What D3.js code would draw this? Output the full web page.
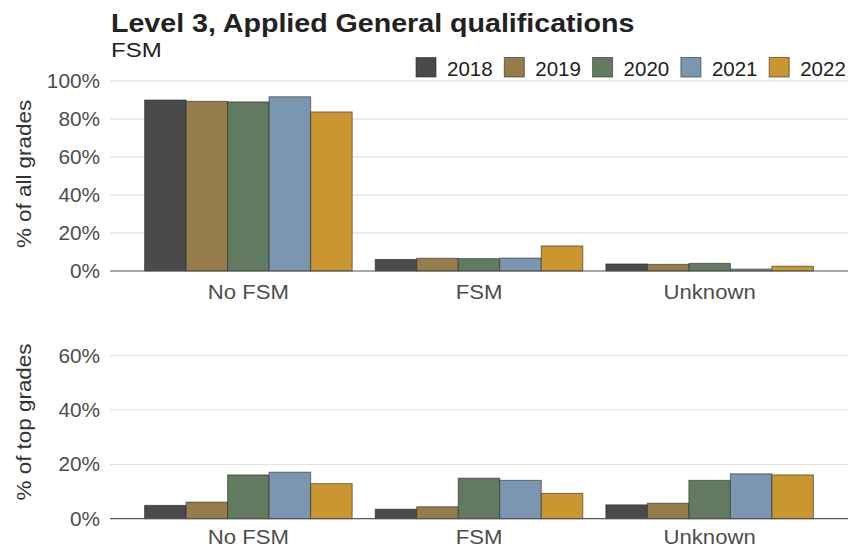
<!DOCTYPE html>
<html>
<head>
<meta charset="utf-8">
<script src="https://cdn.jsdelivr.net/npm/d3@7"></script>
<style>
  body { margin: 0; background: #fff; }
  svg { display: block; font-family: "Liberation Sans", Arial, sans-serif; }
</style>
</head>
<body>
<svg id="chart" width="850" height="549"></svg>
<script>
const categories = ["No FSM", "FSM", "Unknown"];
const years = ["2018", "2019", "2020", "2021", "2022"];
const colors = ["#4a4a4a", "#967c4b", "#627b60", "#7b96b0", "#c9962f"];
// % of all grades, per year, per category
const allGrades = {
  "2018": [90.0, 6.1, 3.7],
  "2019": [89.3, 6.7, 3.5],
  "2020": [89.0, 6.5, 4.0],
  "2021": [91.7, 6.8, 1.0],
  "2022": [83.7, 13.2, 2.5]
};
// % of top grades, per year, per category
const topGrades = {
  "2018": [4.9, 3.5, 5.1],
  "2019": [6.1, 4.4, 5.7],
  "2020": [16.1, 14.9, 14.1],
  "2021": [17.1, 14.1, 16.5],
  "2022": [12.9, 9.3, 16.1]
};
const topTicks = [0, 20, 40, 60, 80, 100];
const bottomTicks = [0, 20, 40, 60];

const svg = d3.select("#chart");

// text placed at (x,y), stretched along its direction by sx, optionally rotated
function addText(parent, x, y, str, opts) {
  const o = Object.assign({ size: 20, fill: "#4d4d4d", anchor: "start", weight: "normal", sx: 1, rot: 0 }, opts);
  return parent.append("text")
    .attr("transform", `translate(${x},${y}) rotate(${o.rot}) scale(${o.sx},1)`)
    .attr("text-anchor", o.anchor)
    .attr("font-size", o.size)
    .attr("font-weight", o.weight)
    .attr("fill", o.fill)
    .text(str);
}

// Title
addText(svg, 111, 32, "Level 3, Applied General qualifications",
  { size: 26, weight: "bold", fill: "#222", sx: 1.1 });
addText(svg, 111, 57, "FSM", { size: 20.5, fill: "#222", sx: 1.17 });

// Legend
const legend = svg.append("g");
years.forEach((y, i) => {
  const lx = 416 + i * 88.3;
  legend.append("rect").attr("x", lx).attr("y", 57.5).attr("width", 20).attr("height", 19.5)
    .attr("fill", colors[i]).attr("stroke", "rgba(40,40,40,0.6)").attr("stroke-width", 1);
  addText(legend, lx + 31, 76, y, { size: 20.5, fill: "#222", sx: 1.0 });
});

const x0 = d3.scaleBand().domain(categories).range([110, 848])
  .paddingInner(0.1).paddingOuter(0.15);
const x1 = d3.scaleBand().domain(years).range([0, x0.bandwidth()]).padding(0);

function panel(data, yScale, ticks, title, labelY, titleMid) {
  const g = svg.append("g");
  // gridlines
  g.selectAll("line.grid").data(ticks.filter(t => t !== 0)).enter().append("line")
    .attr("x1", 110).attr("x2", 848)
    .attr("y1", d => yScale(d)).attr("y2", d => yScale(d))
    .attr("stroke", "#dedede").attr("stroke-width", 1);
  // y tick labels
  ticks.forEach(t => addText(g, 100, yScale(t) + 7, t + "%",
    { size: 20, anchor: "end", fill: "#4d4d4d", sx: 1.04 }));
  // bars
  years.forEach((yr, i) => {
    g.selectAll("rect.y" + yr).data(categories).enter().append("rect")
      .attr("x", c => x0(c) + x1(yr))
      .attr("width", x1.bandwidth())
      .attr("y", (c, j) => yScale(data[yr][j]))
      .attr("height", (c, j) => yScale(0) - yScale(data[yr][j]))
      .attr("fill", colors[i])
      .attr("stroke", "rgba(40,40,40,0.6)").attr("stroke-width", 1);
  });
  // baseline
  g.append("line").attr("x1", 110).attr("x2", 848)
    .attr("y1", yScale(0)).attr("y2", yScale(0))
    .attr("stroke", "#555").attr("stroke-width", 1.2);
  // category labels
  categories.forEach(c => addText(g, x0(c) + x0.bandwidth() / 2, labelY, c,
    { size: 20.5, anchor: "middle", fill: "#4d4d4d", sx: 1.08 }));
  // axis title
  addText(g, 31, titleMid, title,
    { size: 19.5, anchor: "middle", fill: "#333", rot: -90, sx: 1.15 });
}

const yTop = d3.scaleLinear().domain([0, 100]).range([271, 81]);
const yBottom = d3.scaleLinear().domain([0, 60]).range([518.7, 355.6]);

panel(allGrades, yTop, topTicks, "% of all grades", 299, 174);
panel(topGrades, yBottom, bottomTicks, "% of top grades", 544, 422);
</script>
</body>
</html>
